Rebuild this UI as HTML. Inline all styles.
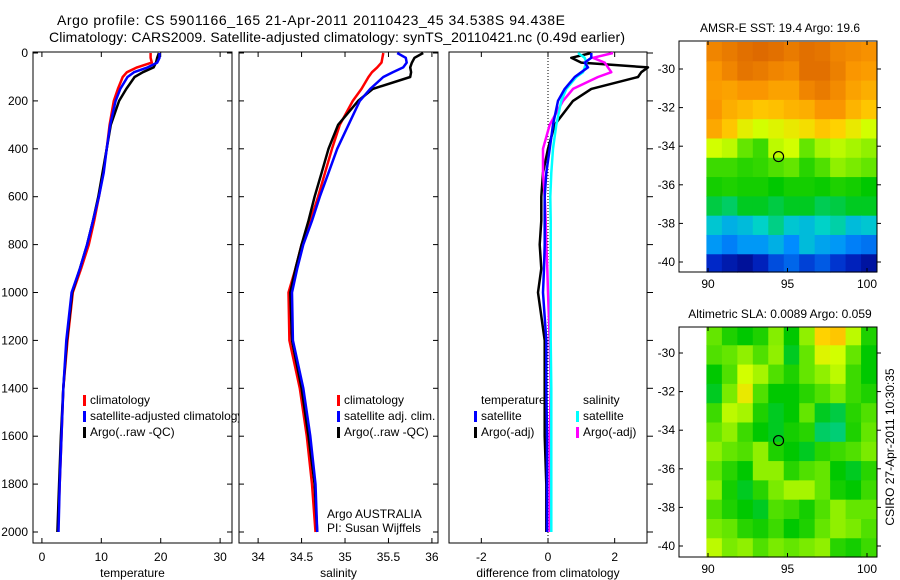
<!DOCTYPE html>
<html><head><meta charset="utf-8">
<style>
html,body{margin:0;padding:0;background:#fff;}
svg{display:block;font-family:"Liberation Sans",sans-serif;}
text{fill:#000;}
</style></head>
<body>
<svg id="fig" width="900" height="580" viewBox="0 0 900 580" xmlns="http://www.w3.org/2000/svg">
<text x="57" y="25" font-size="14" textLength="508" lengthAdjust="spacing">Argo profile: CS 5901166_165 21-Apr-2011 20110423_45 34.538S 94.438E</text>
<text x="49" y="42" font-size="14" textLength="576" lengthAdjust="spacing">Climatology: CARS2009. Satellite-adjusted climatology: synTS_20110421.nc (0.49d earlier)</text>
<g id="plots"></g>
</svg>
<script>
// ---- profile data ----
const depths      = [0,20,40,60,80,100,150,200,300,400,500,600,700,800,900,1000,1200,1400,1600,1800,2000];
const tempClim    = [18.3,18.3,18.5,16.0,14.3,13.6,12.8,12.1,11.4,10.9,10.3,9.6,8.8,7.9,6.6,5.2,4.3,3.6,3.3,3.0,2.7];
const tempSat     = [19.8,19.8,19.4,17.8,15.5,14.4,13.2,12.4,11.5,10.9,10.4,9.6,8.6,7.6,6.4,5.0,4.1,3.6,3.3,3.0,2.8];
const tempArgo    = [19.7,19.4,19.2,18.8,17.0,15.6,14.2,13.0,11.6,10.9,10.2,9.5,8.6,7.6,6.4,5.1,4.2,3.6,3.2,2.9,2.6];
const salClim     = [35.44,35.43,35.42,35.37,35.31,35.27,35.19,35.09,34.94,34.85,34.77,34.69,34.60,34.50,34.43,34.35,34.36,34.48,34.56,34.62,34.66];
const salSat      = [35.60,35.70,35.71,35.67,35.55,35.44,35.29,35.17,35.04,34.91,34.81,34.71,34.62,34.52,34.45,34.39,34.40,34.52,34.60,34.66,34.68];
const salArgo     = [35.90,35.80,35.77,35.75,35.76,35.75,35.32,35.15,34.92,34.81,34.73,34.65,34.58,34.50,34.43,34.37,34.39,34.50,34.58,34.65,34.68];
const dTempSat    = [1.3,1.3,1.1,1.2,1.0,0.8,0.5,0.3,0.15,0.05,-0.05,-0.1,-0.1,-0.1,-0.12,-0.15,-0.05,-0.05,-0.03,-0.03,-0.03];
const dTempArgo   = [1.3,0.7,1.0,3.0,2.8,2.7,1.3,0.75,0.2,0.0,-0.15,-0.2,-0.2,-0.25,-0.2,-0.3,-0.1,-0.1,-0.1,-0.05,-0.05];
const dSalSat     = [0.9,1.1,1.15,1.1,1.05,0.85,0.55,0.4,0.25,0.15,0.1,0.07,0.08,0.08,0.08,0.08,0.08,0.1,0.1,0.1,0.1];
const dSalArgo    = [1.95,1.35,1.7,1.8,1.9,1.5,0.75,0.45,0.05,-0.15,-0.15,-0.1,-0.07,-0.05,-0.02,0.0,0.05,0.08,0.05,0.05,0.05];
const depthTicks  = [0,200,400,600,800,1000,1200,1400,1600,1800,2000];
const tempTicks   = [0,10,20,30];
const salTicks    = [34,34.5,35,35.5,36];
const diffTicks   = [-2,0,2];
// ---- map data (values 0..1 on colour scale) rows north->south ----
const mapLonTicks = [90,95,100];
const mapLatTicks = [-30,-32,-34,-36,-38,-40];
const sstGrid = [
[.93,.95,.97,.98,.97,.95,.97,.96,.93,.92,.91],
[.90,.93,.96,.95,.93,.92,.97,.97,.94,.90,.89],
[.89,.88,.90,.90,.88,.88,.93,.95,.92,.88,.86],
[.90,.86,.84,.82,.83,.85,.86,.90,.90,.85,.82],
[.87,.82,.75,.72,.74,.76,.78,.82,.80,.76,.72],
[.72,.70,.62,.58,.70,.72,.62,.68,.70,.68,.66],
[.58,.58,.56,.57,.60,.62,.56,.60,.66,.64,.62],
[.54,.55,.54,.54,.52,.54,.54,.53,.55,.54,.52],
[.48,.46,.50,.50,.48,.50,.50,.47,.48,.50,.50],
[.38,.34,.36,.40,.44,.38,.36,.40,.42,.36,.38],
[.30,.26,.30,.30,.34,.28,.36,.32,.30,.26,.24],
[.12,.08,.05,.10,.18,.22,.16,.20,.14,.10,.06]];
const slaGrid = [
[.62,.55,.52,.55,.65,.52,.66,.80,.82,.70,.55],
[.60,.62,.66,.60,.66,.50,.62,.74,.72,.62,.52],
[.52,.60,.72,.68,.60,.55,.62,.66,.70,.58,.52],
[.50,.64,.76,.60,.52,.52,.56,.60,.64,.58,.55],
[.58,.70,.68,.55,.50,.52,.62,.50,.48,.56,.60],
[.62,.66,.58,.52,.50,.54,.56,.46,.45,.55,.62],
[.66,.62,.60,.66,.55,.52,.50,.56,.58,.60,.64],
[.62,.56,.52,.66,.66,.56,.60,.62,.52,.50,.56],
[.66,.54,.50,.56,.64,.68,.68,.62,.54,.52,.58],
[.60,.55,.52,.50,.60,.58,.54,.60,.66,.62,.62],
[.64,.62,.56,.54,.58,.52,.55,.62,.66,.64,.60],
[.70,.64,.66,.60,.64,.62,.64,.66,.56,.54,.58]];
const argoLon = 94.438, argoLat = -34.538;

const NS='http://www.w3.org/2000/svg';
const root=document.getElementById('plots');
function mk(tag,attrs,parent){const e=document.createElementNS(NS,tag);for(const k in attrs)e.setAttribute(k,attrs[k]);(parent||root).appendChild(e);return e;}
function lin(d0,d1,r0,r1){return v=>r0+(v-d0)*(r1-r0)/(d1-d0);}

const yD=lin(0,2000,53,532);
const panels=[
 {name:'temperature',x0:33,x1:232,dom:[-1.5,32],ticks:tempTicks,label:'temperature'},
 {name:'salinity',x0:239,x1:438,dom:[33.78,36.07],ticks:salTicks,label:'salinity'},
 {name:'difference',x0:449,x1:647,dom:[-2.97,2.97],ticks:diffTicks,label:'difference from climatology'}];
const TOP=52,BOT=543;
panels.forEach((p,i)=>{
  const g=mk('g',{});
  
  
  p.g=g; p.x=lin(p.dom[0],p.dom[1],p.x0,p.x1);
  const box=mk('rect',{x:p.x0,y:TOP,width:p.x1-p.x0,height:BOT-TOP,fill:'none',stroke:'#000','stroke-width':1},g);
  
  
  p.ticks.forEach(t=>{
    const xx=p.x(t);
    mk('line',{x1:xx,x2:xx,y1:BOT,y2:BOT-5,stroke:'#000'},g);
    mk('line',{x1:xx,x2:xx,y1:TOP,y2:TOP+5,stroke:'#000'},g);
    const tl=mk('text',{x:xx,y:561,'font-size':12,'text-anchor':'middle'},g);
    tl.textContent=String(t);
    
    
  });
  depthTicks.forEach(d=>{
    const yy=yD(d);
    if(i<2){mk('line',{x1:p.x0,x2:p.x0+5,y1:yy,y2:yy,stroke:'#000'},g);mk('line',{x1:p.x1,x2:p.x1-5,y1:yy,y2:yy,stroke:'#000'},g);}
    else{mk('line',{x1:p.x1,x2:p.x1+6,y1:yy,y2:yy,stroke:'#000'},g);}
    if(i===0){
      const yl=mk('text',{x:28,y:yy+4,'font-size':12,'text-anchor':'end'},g);
      yl.textContent=String(d);
      
      
    }
  });
  const at=mk('text',{x:(p.x0+p.x1)/2,y:577,'font-size':12,'text-anchor':'middle'},g);
  at.textContent=p.label;
  
  
});
const zl=mk('line',{x1:panels[2].x(0),x2:panels[2].x(0),y1:TOP,y2:BOT,stroke:'#000','stroke-dasharray':'1,2'},panels[2].g);



function series(p,vals,color,name,w){
  const pts=vals.map((v,k)=>p.x(v).toFixed(1)+','+yD(depths[k]).toFixed(1)).join(' ');
  const l=mk('polyline',{points:pts,fill:'none',stroke:color,'stroke-width':w||2.5,'stroke-linejoin':'round'},p.g);
  
  
}
series(panels[0],tempClim,'#ff0000','temp-climatology-line');
series(panels[0],tempArgo,'#000000','temp-argo-line');
series(panels[0],tempSat,'#0000ff','temp-satellite-line');
series(panels[1],salClim,'#ff0000','sal-climatology-line');
series(panels[1],salArgo,'#000000','sal-argo-line');
series(panels[1],salSat,'#0000ff','sal-satellite-line');
series(panels[2],dTempArgo,'#000000','diff-temp-argo-line');
series(panels[2],dSalArgo,'#ff00ff','diff-sal-argo-line');
series(panels[2],dSalSat,'#00ffff','diff-sal-satellite-line');
series(panels[2],dTempSat,'#0000ff','diff-temp-satellite-line');

function legend(g,x,y,items,name){
  const lg=mk('g',{},g);
  
  
  items.forEach((it,k)=>{
    const yy=y+k*16;
    if(it[1]) mk('rect',{x:x,y:yy-9,width:3,height:11,fill:it[1]},lg);
    const t=mk('text',{x:x+(it[1]?7:0),y:yy,'font-size':12},lg);
    t.textContent=it[0];
    
    
  });
}
legend(panels[0].g,83,404,[['climatology','#ff0000'],['satellite-adjusted climatology','#0000ff'],['Argo(..raw -QC)','#000000']],'temp-legend');
const cp=mk('clipPath',{id:'c0'});mk('rect',{x:33,y:0,width:206,height:580},cp);
panels[0].g.lastChild.setAttribute('clip-path','url(#c0)');
legend(panels[1].g,337,404,[['climatology','#ff0000'],['satellite adj. clim.','#0000ff'],['Argo(..raw -QC)','#000000']],'sal-legend');
legend(panels[2].g,481,404,[['temperature',null]],'diff-legend-temp-head');
legend(panels[2].g,474,420,[['satellite','#0000ff'],['Argo(-adj)','#000000']],'diff-legend-temp');
legend(panels[2].g,583,404,[['salinity',null]],'diff-legend-sal-head');
legend(panels[2].g,576,420,[['satellite','#00ffff'],['Argo(-adj)','#ff00ff']],'diff-legend-sal');
const a1=mk('text',{x:327,y:518,'font-size':12},panels[1].g);a1.textContent='Argo AUSTRALIA';


const a2=mk('text',{x:327,y:532,'font-size':12},panels[1].g);a2.textContent='PI: Susan Wijffels';



const stops=[[0,[0,0,120]],[0.12,[0,40,200]],[0.28,[0,140,255]],[0.4,[0,210,200]],[0.52,[0,200,0]],[0.62,[100,230,0]],[0.72,[210,255,0]],[0.8,[255,210,0]],[0.9,[250,150,0]],[1,[215,95,0]]];
function cmap(v){v=Math.max(0,Math.min(1,v));for(let k=1;k<stops.length;k++){if(v<=stops[k][0]){const a=stops[k-1],b=stops[k],f=(v-a[0])/(b[0]-a[0]);return 'rgb('+a[1].map((c,j)=>Math.round(c+(b[1][j]-c)*f)).join(',')+')';}}return 'rgb(215,95,0)';}

function drawMap(grid,top,bot,latAt30,latAt40,title,name){
  const g=mk('g',{});
  
  
  const xL=lin(90,100,708,867), yL=lin(-30,-40,latAt30,latAt40);
  const lon0=89.9,lon1=100.6,lat0=-28.6,lat1=-40.6;
  const nr=grid.length,nc=grid[0].length;
  const dlon=(lon1-lon0)/nc,dlat=(lat1-lat0)/nr;
  grid.forEach((row,r)=>row.forEach((v,c)=>{
    const x=xL(lon0+c*dlon),y=Math.max(top,yL(lat0+r*dlat));
    const x2=xL(lon0+(c+1)*dlon),y2=Math.min(bot,yL(lat0+(r+1)*dlat));
    const cell=mk('rect',{x:x.toFixed(2),y:y.toFixed(2),width:(x2-x+0.6).toFixed(2),height:(y2-y+0.6).toFixed(2),fill:cmap(v)},g);
    
    
  }));
  mk('rect',{x:679,y:top,width:198,height:bot-top,fill:'none',stroke:'#000'},g);
  mapLonTicks.forEach(t=>{const xx=xL(t);mk('line',{x1:xx,x2:xx,y1:bot,y2:bot-4,stroke:'#000'},g);mk('line',{x1:xx,x2:xx,y1:top,y2:top+4,stroke:'#000'},g);
    const tl=mk('text',{x:xx,y:bot+16,'font-size':12,'text-anchor':'middle'},g);tl.textContent=String(t);
    
    });
  mapLatTicks.forEach(t=>{const yy=yL(t);mk('line',{x1:877,x2:881,y1:yy,y2:yy,stroke:'#000'},g);mk('line',{x1:679,x2:683,y1:yy,y2:yy,stroke:'#000'},g);
    const tl=mk('text',{x:675,y:yy+4,'font-size':12,'text-anchor':'end'},g);tl.textContent=String(t);
    
    });
  const mrk=mk('circle',{cx:xL(argoLon),cy:yL(argoLat),r:5,fill:'none',stroke:'#000','stroke-width':1.2},g);
  
  
  const tt=mk('text',{x:780,y:top-9,'font-size':12,'text-anchor':'middle'},g);tt.textContent=title;
  
  
}
drawMap(sstGrid,41,272,69,262,'AMSR-E SST: 19.4 Argo: 19.6','sst-map');
drawMap(slaGrid,327,557,353,546,'Altimetric SLA: 0.0089 Argo: 0.059','sla-map');
const cs=mk('text',{x:0,y:0,'font-size':12,'text-anchor':'middle',transform:'translate(894,447) rotate(-90)'});
cs.textContent='CSIRO 27-Apr-2011 10:30:35';


</script>
</body></html>
